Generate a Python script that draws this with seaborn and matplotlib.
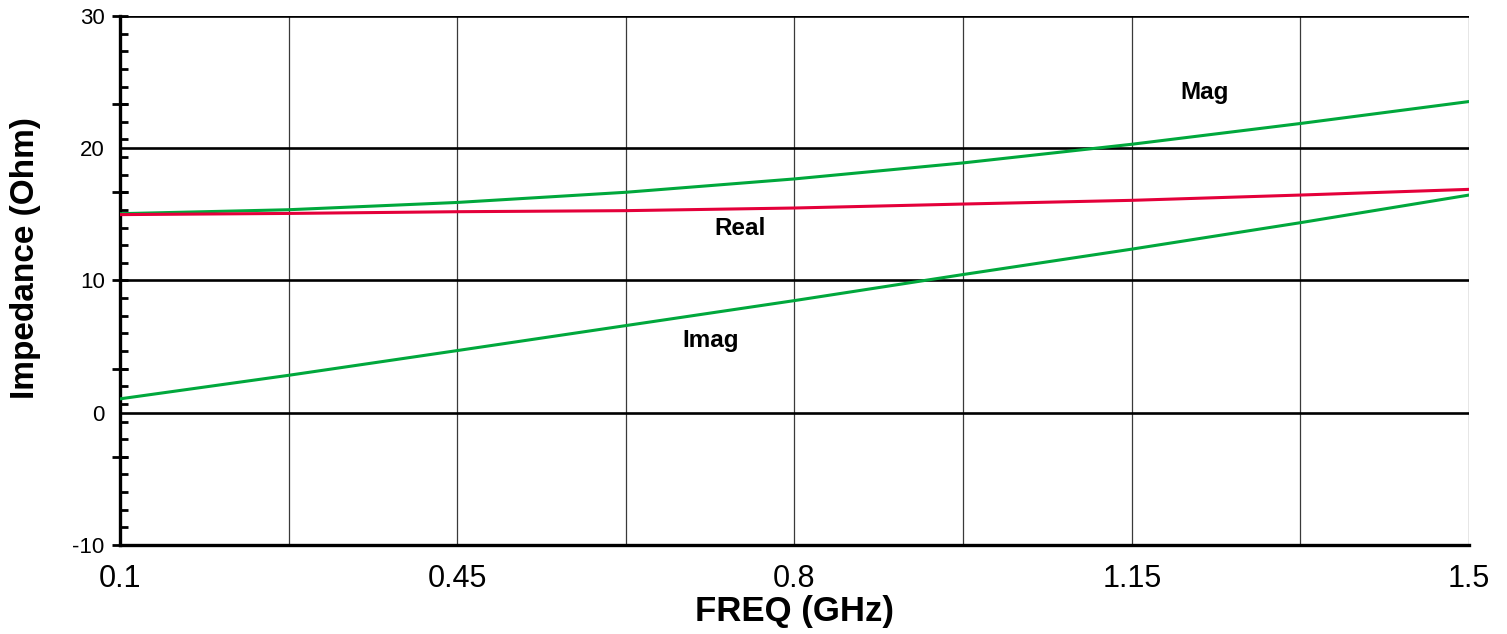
import numpy as np
import pandas as pd
import matplotlib
matplotlib.use("Agg")
import matplotlib.pyplot as plt
import seaborn as sns

# values at each vertical gridline
freq = [0.1, 0.275, 0.45, 0.625, 0.8, 0.975, 1.15, 1.325, 1.5]
mag = [15.05, 15.35, 15.9, 16.67, 17.68, 18.89, 20.3, 21.87, 23.53]
real = [14.98, 15.07, 15.2, 15.28, 15.48, 15.78, 16.06, 16.46, 16.89]
imag = [1.05, 2.83, 4.7, 6.59, 8.48, 10.45, 12.37, 14.37, 16.46]

x_labels = ["0.1", "", "0.45", "", "0.8", "", "1.15", "", "1.5"]
y_labels = [-10, 0, 10, 20, 30]

GREEN = "#00a83c"
RED = "#e4003a"

df = pd.concat([
    pd.DataFrame({"freq": freq, "val": mag, "series": "Mag"}),
    pd.DataFrame({"freq": freq, "val": real, "series": "Real"}),
    pd.DataFrame({"freq": freq, "val": imag, "series": "Imag"}),
])

sns.set_style("white")
plt.rcParams["font.family"] = ["Liberation Sans", "DejaVu Sans"]
plt.rcParams.update({"text.color": "black", "axes.labelcolor": "black",
                     "xtick.color": "black", "ytick.color": "black"})

fig = plt.figure(figsize=(15.07, 6.34), dpi=100)
ax = fig.add_axes([0.0796, 0.1404, 0.8952, 0.8344])

# grid lines first so curves sit on top
for f in freq:
    ax.axvline(f, color="#3a3a3a", lw=0.9, zorder=1)
for v in [0, 10, 20, 30]:
    ax.axhline(v, color="black", lw=1.9, zorder=1)

sns.lineplot(data=df, x="freq", y="val", hue="series",
             palette={"Mag": GREEN, "Real": RED, "Imag": GREEN},
             lw=2.2, legend=False, ax=ax, zorder=3)

ax.set_xlim(0.1, 1.5)
ax.set_ylim(-10, 30)

ax.set_xticks(freq)
ax.set_xticklabels(x_labels, fontsize=22)
ax.tick_params(axis="x", direction="out", length=3.5, width=2.2, pad=10)

# labels sit on the gridlines, tick marks follow their own 30-step spacing
ax.set_yticks(y_labels)
ax.set_yticklabels([str(v) for v in y_labels], fontsize=16)
ax.set_yticks(np.linspace(-10, 30, 31), minor=True)
ax.tick_params(axis="y", which="major", length=0, pad=11)
ax.tick_params(axis="y", which="minor", direction="in", length=5.5, width=2, left=True)

ax2 = ax.twinx()
ax2.set_ylim(-10, 30)
ax2.yaxis.set_ticks_position("left")
ax2.set_yticks(np.linspace(-10, 30, 7))
ax2.set_yticklabels([])
ax2.tick_params(axis="y", direction="inout", length=11, width=2)
for s in ax2.spines.values():
    s.set_visible(False)

for side in ["left", "bottom"]:
    ax.spines[side].set_linewidth(2.4)
    ax.spines[side].set_color("black")
ax.spines["right"].set_visible(False)
ax.spines["top"].set_visible(False)

ax.set_xlabel("FREQ (GHz)", fontsize=25, fontweight="bold", labelpad=1)
ax.set_ylabel("Impedance (Ohm)", fontsize=24, fontweight="bold")
ax.yaxis.set_label_coords(-0.0586, 0.5425)

ax.text(1.226, 24.2, "Mag", fontsize=17.5, fontweight="bold", ha="center", va="center")
ax.text(0.743, 13.9, "Real", fontsize=17.5, fontweight="bold", ha="center", va="center")
ax.text(0.713, 5.45, "Imag", fontsize=17.5, fontweight="bold", ha="center", va="center")

fig.savefig("out.png", dpi=100)
